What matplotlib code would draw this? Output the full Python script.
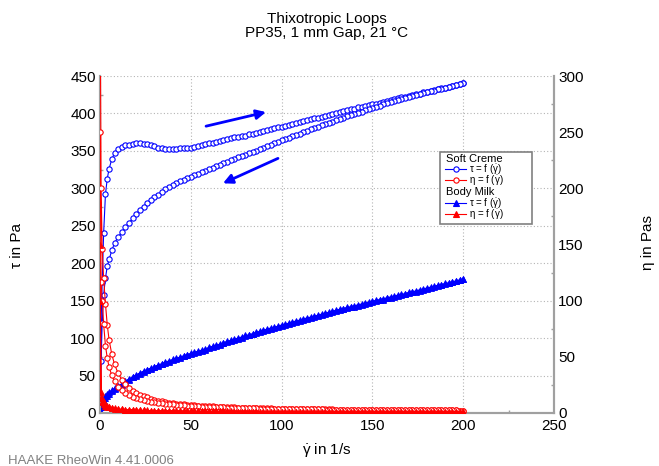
import matplotlib
matplotlib.use('Agg')
import matplotlib.pyplot as plt
from matplotlib.lines import Line2D
from matplotlib.patches import Rectangle
from matplotlib.ticker import MultipleLocator
import numpy as np

plt.rcParams['font.family'] = ['Liberation Sans', 'DejaVu Sans']
plt.rcParams['mathtext.fontset'] = 'custom'
plt.rcParams['mathtext.rm'] = 'Liberation Sans'
plt.rcParams['mathtext.it'] = 'Liberation Sans'
plt.rcParams['mathtext.bf'] = 'Liberation Sans:bold'

# ---------------- data ----------------
shear_rate = [0.02, 0.6, 1.2, 2, 3, 4, 5, 6.5, 8,
              10, 12, 14, 16, 18, 20, 22, 24,
              26, 28, 30, 32, 34, 36, 38, 40,
              42, 44, 46, 48, 50, 52, 54, 56,
              58, 60, 62, 64, 66, 68, 70, 72,
              74, 76, 78, 80, 82, 84, 86, 88,
              90, 92, 94, 96, 98, 100, 102, 104,
              106, 108, 110, 112, 114, 116, 118, 120,
              122, 124, 126, 128, 130, 132, 134, 136,
              138, 140, 142, 144, 146, 148, 150, 152,
              154, 156, 158, 160, 162, 164, 166, 168,
              170, 172, 174, 176, 178, 180, 182, 184,
              186, 188, 190, 192, 194, 196, 198, 200]

# Soft Creme shear stress, up ramp (Pa)
soft_tau_up = [8, 120, 175, 240, 292, 313, 326, 339, 347,
               352, 355.5, 357.5, 358.5, 359.5, 360, 360, 359.5,
               359, 357.5, 356, 354.5, 353.5, 353, 352.5, 352.5,
               353, 353.5, 353.5, 354, 354.5, 355.5, 356.5, 357.5,
               359, 360, 361, 362.5, 363.5, 364.5, 366, 367,
               368, 368.5, 369.5, 370.5, 372, 373, 374, 375.5,
               376.5, 377.5, 379, 380, 381.5, 382.5, 383.5, 385,
               386, 387.5, 388.5, 389.5, 391, 392, 393.5, 394.5,
               395.5, 397, 398, 399.5, 400.5, 401.5, 403, 404,
               405.5, 406.5, 408, 409, 410, 411, 412, 413,
               414.5, 415.5, 417, 418, 419, 420, 421.5, 422.5,
               423.5, 424.5, 425.5, 426.5, 428, 429, 430, 431,
               432, 433.5, 434.5, 435.5, 436.5, 437.5, 439, 440]

# Soft Creme shear stress, down ramp (Pa), listed at ascending shear rate
soft_tau_down = [5, 70, 120, 158, 180, 196, 205, 217, 227,
                 235, 241.5, 248, 254, 260, 266, 271, 275.5,
                 280, 284, 288, 291.5, 295, 298.5, 301.5, 304.5,
                 307, 309.5, 311.5, 313.5, 315.5, 317.5, 319.5, 321.5,
                 323.5, 325.5, 327.5, 329.5, 331.5, 333.5, 335.5, 337.5,
                 339.5, 341.5, 343, 345, 347, 348.5, 350.5, 352.5,
                 354.5, 356.5, 358.5, 360, 362, 364, 366, 367.5,
                 369.5, 371, 373, 375, 377, 379, 380, 382,
                 384, 385.5, 387.5, 389, 391, 392.5, 394.5, 396.5,
                 398, 399.5, 401, 402.5, 404.5, 406, 407.5, 409,
                 410.5, 412, 413.5, 415, 416.5, 418, 419, 420.5,
                 422, 423, 424.5, 425.5, 427, 428.5, 429.5, 430.5,
                 432, 433, 434.5, 435.5, 436.5, 438, 439, 440]

# Body Milk shear stress, up ramp (Pa)
milk_tau_up = [3, 11, 16, 20, 23, 25.5, 27.5, 30.5, 33,
               36, 39, 42.5, 45.5, 48.5, 51, 53.5, 56,
               58, 60, 62, 64, 66, 68, 69.5, 71.5,
               73, 74.5, 76.5, 78, 79.5, 81, 82.5, 84,
               85.5, 87.5, 89, 90.5, 92, 94, 95.5, 97,
               98.5, 100, 101.5, 103.5, 104.5, 106, 107.5, 109,
               110.5, 112, 113.5, 114.5, 116, 117.5, 118.5, 120,
               121.5, 123, 124, 125.5, 127, 128, 129.5, 130.5,
               132, 133.5, 134.5, 136, 137, 138.5, 139.5, 141,
               142, 143, 144.5, 145.5, 147, 148, 149, 150.5,
               151.5, 152.5, 154, 155, 156, 157.5, 158.5, 159.5,
               161, 162, 163, 164.5, 165.5, 167, 168, 169,
               170.5, 171.5, 173, 174, 175, 176.5, 177.5, 179]

# Body Milk shear stress, down ramp (Pa), listed at ascending shear rate
milk_tau_down = [2, 8, 12, 16, 20, 23, 26, 29, 32,
                 35, 38, 41.5, 44.5, 47.5, 50, 52.5, 55,
                 57, 59, 61, 63, 65, 67, 68.5, 70.5,
                 72, 73.5, 75.5, 77, 78.5, 80, 81.5, 83,
                 84.5, 86.5, 88, 89.5, 91, 93, 94.5, 96,
                 97.5, 99, 100.5, 102.5, 103.5, 105, 106.5, 108,
                 109.5, 111, 112.5, 113.5, 115, 116.5, 117.5, 119,
                 120.5, 122, 123, 124.5, 126, 127, 128.5, 129.5,
                 131, 132.5, 133.5, 135, 136, 137.5, 138.5, 140,
                 141, 142, 143.5, 144.5, 146, 147, 148, 149.5,
                 150.5, 151.5, 153, 154, 155, 156.5, 157.5, 158.5,
                 160, 161, 162, 163.5, 164.5, 166, 167, 168,
                 169.5, 170.5, 172, 173, 174.5, 176, 177.5, 179]

x_ticks = [0, 50, 100, 150, 200, 250]
tau_ticks = [0, 50, 100, 150, 200, 250, 300, 350, 400, 450]
eta_ticks = [0, 50, 100, 150, 200, 250, 300]

# loops: up ramp followed by down ramp
rate_loop = np.array(shear_rate + shear_rate[::-1])
soft_tau_loop = np.array(soft_tau_up + soft_tau_down[::-1])
milk_tau_loop = np.array(milk_tau_up + milk_tau_down[::-1])
# viscosity by definition eta = tau / shear rate
soft_eta_loop = soft_tau_loop / rate_loop
milk_eta_loop = milk_tau_loop / rate_loop

# ---------------- figure ----------------
W, H = 659, 466
fig = plt.figure(figsize=(W / 100, H / 100), dpi=100)
fx = lambda px: px / W
fy = lambda py: 1 - py / H

ax = fig.add_axes([fx(100), fy(413), 454 / W, 337 / H])
ax2 = ax.twinx()

BLUE = '#0000ff'
RED = '#ff0000'
GRAY = '#a0a0a0'
MS = 3.8

ax.plot(rate_loop, soft_tau_loop, color=BLUE, lw=0.8, marker='o', ms=MS,
        mfc='white', mec=BLUE, mew=0.8, zorder=3)
ax.plot(rate_loop, milk_tau_loop, color=BLUE, lw=0.8, marker='^', ms=MS,
        mfc=BLUE, mec=BLUE, mew=0.6, zorder=4)
ax2.plot(rate_loop, soft_eta_loop, color=RED, lw=0.8, marker='o', ms=MS,
         mfc='white', mec=RED, mew=0.8, zorder=3)
ax2.plot(rate_loop, milk_eta_loop, color=RED, lw=0.8, marker='^', ms=MS,
         mfc=RED, mec=RED, mew=0.6, zorder=4)

ax.set_xlim(0, 250)
ax.set_ylim(0, 450)
ax2.set_ylim(0, 300)
ax.set_xticks(x_ticks)
ax.set_yticks(tau_ticks)
ax2.set_yticks(eta_ticks)
ax.xaxis.set_minor_locator(MultipleLocator(25))
ax.yaxis.set_minor_locator(MultipleLocator(25))
ax2.yaxis.set_minor_locator(MultipleLocator(25))

ax.grid(True, which='major', linestyle=(0, (1, 2)), color='#b4b4b4', lw=0.8)
ax.set_axisbelow(True)

for a in (ax, ax2):
    for s in a.spines.values():
        s.set_color(GRAY)
        s.set_linewidth(1.5)
    a.spines['top'].set_visible(False)
ax.tick_params(axis='y', which='major', direction='in', length=0,
               labelsize=11, pad=3)
ax.tick_params(axis='x', which='major', direction='in', length=0,
               labelsize=11, pad=4.5)
ax.tick_params(axis='both', which='minor', direction='in', length=2.5,
               color=GRAY, width=1)
ax2.tick_params(axis='y', which='major', direction='in', length=0,
                labelsize=11, pad=3)
ax2.tick_params(axis='y', which='minor', direction='in', length=2.5,
                color=GRAY, width=1)

# arrows showing ramp direction
ax.annotate('', xy=(91.4, 401.8), xytext=(58.4, 383),
            arrowprops=dict(arrowstyle='-|>', color=BLUE, lw=2,
                            mutation_scale=14, shrinkA=0, shrinkB=0))
ax.annotate('', xy=(67.7, 306.7), xytext=(98, 340),
            arrowprops=dict(arrowstyle='-|>', color=BLUE, lw=2,
                            mutation_scale=14, shrinkA=0, shrinkB=0))

GDOT = r'$\dot{\gamma}$'
# titles and labels
fig.text(fx(327), fy(22.7), 'Thixotropic Loops', ha='center', va='baseline', fontsize=11)
fig.text(fx(327), fy(37.3), 'PP35, 1 mm Gap, 21 °C', ha='center', va='baseline', fontsize=11)
fig.text(fx(327), fy(454), GDOT + ' in 1/s', ha='center', va='baseline', fontsize=11)
fig.text(fx(17), fy(246), 'τ in Pa', rotation=90, ha='center', va='center', fontsize=11)
fig.text(fx(648), fy(242), 'η in Pas', rotation=90, ha='center', va='center', fontsize=11)
fig.text(fx(8), fy(464), 'HAAKE RheoWin 4.41.0006', ha='left', va='baseline',
         fontsize=9.5, color='#808080')

# legend (drawn manually to mimic grouped layout)
box = Rectangle((fx(439.5), fy(223.7)), (532 - 439.5) / W, (223.7 - 152.3) / H,
                transform=fig.transFigure, facecolor='white', edgecolor='#808080',
                lw=1.2, zorder=10)
fig.add_artist(box)
lfs = 7
fig.text(fx(446), fy(162.3), 'Soft Creme', fontsize=8, va='baseline', zorder=11)
fig.text(fx(446), fy(195), 'Body Milk', fontsize=8, va='baseline', zorder=11)
entries = [
    (169.3, BLUE, 'o', 'white', 'τ = f (' + GDOT + ')', 172.3),
    (180.0, RED, 'o', 'white', 'η = f (' + GDOT + ')', 183.0),
    (203.3, BLUE, '^', BLUE, 'τ = f (' + GDOT + ')', 206.3),
    (214.0, RED, '^', RED, 'η = f (' + GDOT + ')', 217.0),
]
for yl, col, mk, mfc, lab, yb in entries:
    fig.add_artist(Line2D([fx(445), fx(466)], [fy(yl), fy(yl)], transform=fig.transFigure,
                          color=col, lw=0.8, zorder=11))
    fig.add_artist(Line2D([fx(456)], [fy(yl)], transform=fig.transFigure, color=col,
                          marker=mk, ms=MS, mfc=mfc, mec=col, mew=0.8, zorder=12))
    fig.text(fx(469), fy(yb), lab, fontsize=lfs, va='baseline', zorder=11)

fig.savefig('out.png', dpi=100)
